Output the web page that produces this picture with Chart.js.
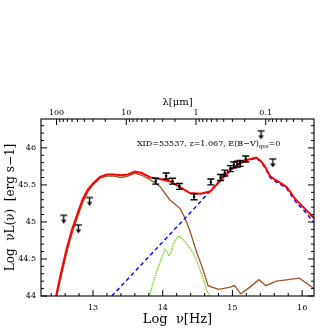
<!DOCTYPE html>
<html><head><meta charset="utf-8">
<script src="https://cdn.jsdelivr.net/npm/chart.js@4/dist/chart.umd.min.js"></script>
<style>html,body{margin:0;padding:0;background:#fff}</style>
</head><body>
<canvas id="c" width="332" height="332"></canvas>
<script>
// ---- data (log nu [Hz], log nuL(nu) [erg/s]) ----
const totalNu = [12.47,12.55,12.62,12.70,12.78,12.85,12.92,13.00,13.10,13.20,13.30,13.40,13.50,13.60,13.70,13.82,13.96,14.10,14.25,14.39,14.54,14.68,14.82,14.97,15.11,15.22,15.34,15.41,15.47,15.54,15.61,15.70,15.78,15.91,16.05,16.17];
const totalL  = [44.00,44.35,44.63,44.90,45.12,45.30,45.43,45.52,45.61,45.64,45.64,45.63,45.64,45.68,45.66,45.60,45.58,45.55,45.47,45.39,45.38,45.41,45.55,45.70,45.80,45.84,45.87,45.82,45.74,45.62,45.57,45.52,45.47,45.30,45.17,45.05];

const torusNu = [12.48,12.56,12.63,12.71,12.79,12.86,12.93,13.00,13.10,13.20,13.30,13.40,13.50,13.60,13.70,13.82,13.96,14.10,14.25,14.32,14.39,14.49,14.57,14.65,14.80,14.97,15.03,15.12,15.25,15.38,15.48,15.63,15.80,15.96,16.17];
const torusL  = [44.00,44.33,44.61,44.88,45.10,45.28,45.41,45.50,45.59,45.62,45.62,45.60,45.62,45.66,45.63,45.57,45.48,45.30,45.18,45.05,44.88,44.58,44.38,44.14,44.09,44.12,44.14,44.03,44.12,44.22,44.14,44.20,44.22,44.24,44.10];

const qsoNu = [13.27,13.60,14.00,14.46,14.82,14.97,15.11,15.22,15.34,15.41,15.47,15.54,15.61,15.70,15.78,15.91,16.05,16.17];
const qsoL  = [44.00,44.33,44.73,45.19,45.56,45.69,45.79,45.83,45.86,45.81,45.73,45.60,45.55,45.50,45.45,45.27,45.13,44.99];

const galNu = [13.81,13.85,13.89,13.93,13.96,14.01,14.03,14.06,14.09,14.12,14.15,14.20,14.24,14.30,14.37,14.44,14.51,14.58,14.63,14.67];
const galL  = [44.00,44.14,44.26,44.37,44.45,44.58,44.63,44.60,44.54,44.58,44.70,44.78,44.81,44.76,44.67,44.58,44.42,44.24,44.08,44.00];

const obsNu  = [13.90,14.05,14.14,14.24,14.45,14.69,14.83,14.89,14.97,15.02,15.07,15.11,15.19];
const obsL   = [45.55,45.62,45.55,45.48,45.34,45.54,45.60,45.66,45.72,45.77,45.78,45.79,45.85];
const obsErr = [0.04,0.04,0.04,0.04,0.04,0.04,0.04,0.04,0.04,0.04,0.04,0.04,0.04];

const ulNu = [12.58,12.79,12.95,15.41,15.58];
const ulL  = [45.09,44.96,45.33,46.23,45.85];

const xTicks = [13,14,15,16];
const yTicks = [44,44.5,45,45.5,46];
const lamTicks = [100,10,1,0.1];
const lamLabels = ['100','10','1','0.1'];
const LOG_C = 14.477; // log10(c) in micron/s

const X_MIN = 12.254, X_MAX = 16.17, Y_MIN = 44, Y_MAX = 46.39;

const pts = (xs, ys) => xs.map((x,i)=>({x:x, y:ys[i]}));

// upper-limit arrow symbol
function arrowImg(){
  const c = document.createElement('canvas');
  c.width = 9; c.height = 18;
  const g = c.getContext('2d');
  g.strokeStyle = '#000'; g.fillStyle = '#000'; g.lineWidth = 1.3;
  g.beginPath(); g.moveTo(1,9); g.lineTo(8,9); g.stroke();
  g.beginPath(); g.moveTo(4.5,9); g.lineTo(4.5,14); g.stroke();
  g.beginPath(); g.moveTo(1.8,13.5); g.lineTo(7.2,13.5); g.lineTo(4.5,17.5); g.closePath(); g.fill();
  return c;
}

const SERIF = "'DejaVu Serif', 'Liberation Serif', serif";

const decor = {
  id: 'decor',
  afterDatasetsDraw(chart){
    const ctx = chart.ctx, a = chart.chartArea;
    const xs = chart.scales.x, ys = chart.scales.y;
    ctx.save();
    // error bars
    ctx.strokeStyle = '#000'; ctx.fillStyle = '#000'; ctx.lineWidth = 1.4;
    obsNu.forEach((nu,i)=>{
      const px = xs.getPixelForValue(nu);
      const pt = ys.getPixelForValue(obsL[i]+obsErr[i]);
      const pb = ys.getPixelForValue(obsL[i]-obsErr[i]);
      const pc = ys.getPixelForValue(obsL[i]);
      ctx.beginPath();
      ctx.moveTo(px,pt); ctx.lineTo(px,pb);
      ctx.moveTo(px-3.5,pt); ctx.lineTo(px+3.5,pt);
      ctx.moveTo(px-3.5,pb); ctx.lineTo(px+3.5,pb);
      ctx.stroke();
      ctx.beginPath(); ctx.arc(px,pc,1.3,0,Math.PI*2); ctx.fill();
    });
    // frame
    ctx.lineWidth = 1.1;
    ctx.strokeRect(a.left, a.top, a.right-a.left, a.bottom-a.top);
    ctx.lineWidth = 1;
    const MAJ = 6, MIN = 3;
    ctx.beginPath();
    // bottom ticks (log nu)
    for (let k = 124; k <= 161; k += 2){
      const v = k/10;
      if (v < X_MIN || v > X_MAX) continue;
      const px = xs.getPixelForValue(v);
      const L = (k % 10 === 0) ? MAJ : MIN;
      ctx.moveTo(px, a.bottom); ctx.lineTo(px, a.bottom - L);
    }
    // top ticks (lambda)
    for (let d = -2; d <= 2; d++){
      for (let m = 1; m <= 9; m++){
        const lam = m * Math.pow(10, d);
        const v = LOG_C - Math.log10(lam);
        if (v < X_MIN || v > X_MAX) continue;
        const px = xs.getPixelForValue(v);
        const L = (m === 1) ? MAJ : MIN;
        ctx.moveTo(px, a.top); ctx.lineTo(px, a.top + L);
      }
    }
    // left / right ticks
    for (let k = 440; k <= 463; k += 1){
      const v = k/10;
      const py = ys.getPixelForValue(v);
      const L = (k % 5 === 0) ? MAJ : MIN;
      ctx.moveTo(a.left, py); ctx.lineTo(a.left + L, py);
      ctx.moveTo(a.right, py); ctx.lineTo(a.right - L, py);
    }
    ctx.stroke();
    // annotation
    ctx.fillStyle = '#000';
    ctx.textBaseline = 'middle'; ctx.textAlign = 'left';
    ctx.font = "8px " + SERIF;
    const tx = xs.getPixelForValue(13.63), ty = ys.getPixelForValue(46.054);
    const s1 = 'XID=53537, z=1.067, E(B\u2212V)';
    ctx.fillText(s1, tx, ty);
    let w = ctx.measureText(s1).width;
    ctx.font = "5.5px " + SERIF;
    ctx.fillText('qso', tx + w, ty + 3);
    const w2 = ctx.measureText('qso').width;
    ctx.font = "8px " + SERIF;
    ctx.fillText('=0', tx + w + w2, ty);
    ctx.restore();
  }
};

new Chart(document.getElementById('c'), {
  type: 'scatter',
  data: {
    datasets: [
      { label:'upper limits', data: pts(ulNu, ulL), pointStyle: arrowImg(), pointRadius: 5, showLine:false },
      { label:'total', data: pts(totalNu,totalL), showLine:true, borderColor:'#ff0000', borderWidth:2, pointRadius:0, tension:0 },
      { label:'qso', data: pts(qsoNu,qsoL), showLine:true, borderColor:'#0000ff', borderWidth:1.4, borderDash:[4,3], pointRadius:0, tension:0 },
      { label:'galaxy', data: pts(galNu,galL), showLine:true, borderColor:'#80d030', borderWidth:1.4, borderDash:[1.5,0.8], pointRadius:0, tension:0 },
      { label:'torus', data: pts(torusNu,torusL), showLine:true, borderColor:'#9c5527', borderWidth:1.3, pointRadius:0, tension:0 }
    ]
  },
  options: {
    responsive: false,
    animation: false,
    devicePixelRatio: 1,
    layout: { padding: { left: 0, right: 18, top: 88, bottom: 0 } },
    plugins: { legend: { display:false }, tooltip: { enabled:false } },
    scales: {
      x: {
        type:'linear', position:'bottom', min:X_MIN, max:X_MAX,
        afterBuildTicks: s => { s.ticks = xTicks.map(v=>({value:v})); },
        afterFit: s => { s.height = 36; },
        grid: { display:false, drawTicks:false },
        border: { display:false },
        ticks: { color:'#000', padding:7, font:{ family:SERIF, size:8 }, callback: v => String(v), maxRotation:0, autoSkip:false },
        title: { display:true, text:'Log  \u03bd[Hz]', color:'#000', font:{ family:SERIF, size:13 }, padding:{ top:0, bottom:5 } }
      },
      x2: {
        type:'linear', position:'top', min:X_MIN, max:X_MAX,
        afterBuildTicks: s => { s.ticks = lamTicks.map(l=>({value: LOG_C - Math.log10(l)})); },
        afterFit: s => { s.height = 31; },
        grid: { display:false, drawTicks:false },
        border: { display:false },
        ticks: { color:'#000', padding:1, font:{ family:SERIF, size:8 }, maxRotation:0, autoSkip:false,
                 callback: (v, i) => lamLabels[i] },
        title: { display:true, text:'\u03bb[\u03bcm]', color:'#000', font:{ family:SERIF, size:10 }, padding:{ top:8, bottom:0 } }
      },
      y: {
        type:'linear', position:'left', min:Y_MIN, max:Y_MAX,
        afterBuildTicks: s => { s.ticks = yTicks.map(v=>({value:v})); },
        afterFit: s => { s.width = 41; },
        grid: { display:false, drawTicks:false },
        border: { display:false },
        ticks: { color:'#000', padding:5, font:{ family:SERIF, size:8 }, callback: v => String(v) },
        title: { display:true, text:'Log  \u03bdL(\u03bd)  [erg s\u22121]', color:'#000', font:{ family:SERIF, size:12 }, padding:{ top:4, bottom:0 } }
      }
    }
  },
  plugins: [decor]
});
</script>
</body></html>
